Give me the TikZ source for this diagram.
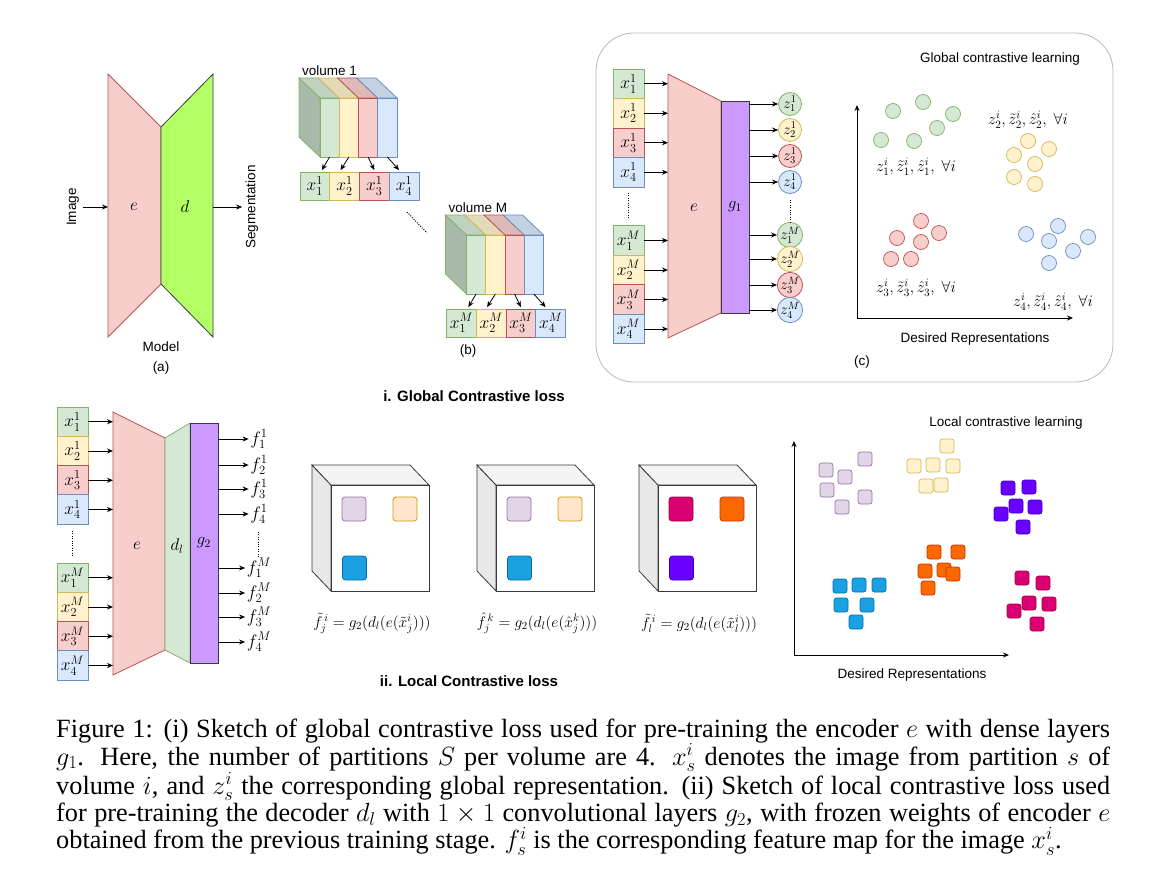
\RequirePackage{fix-cm}
\documentclass[tikz,border=0pt]{standalone}
\usepackage{fontspec}
\setmainfont{Liberation Sans}
\newfontfamily\capfont{Liberation Serif}
\usetikzlibrary{arrows.meta,positioning,calc}

\definecolor{gF}{HTML}{D5E8D4}\definecolor{gD}{HTML}{82B366}
\definecolor{yF}{HTML}{FFF2CC}\definecolor{yD}{HTML}{D6B656}
\definecolor{rF}{HTML}{F8CECC}\definecolor{rD}{HTML}{B85450}
\definecolor{bF}{HTML}{DAE8FC}\definecolor{bD}{HTML}{6C8EBF}
\definecolor{lavF}{HTML}{E1D5E7}\definecolor{lavD}{HTML}{9673A6}
\definecolor{orlF}{HTML}{FFE6CC}\definecolor{orlD}{HTML}{D79B00}
\definecolor{cyF}{HTML}{1BA1E2}\definecolor{cyD}{HTML}{006EAF}
\definecolor{mgF}{HTML}{D80073}\definecolor{mgD}{HTML}{A50040}
\definecolor{orF}{HTML}{FA6800}\definecolor{orD}{HTML}{C73500}
\definecolor{vF}{HTML}{6A00FF}\definecolor{vD}{HTML}{3700CC}
\definecolor{pF}{HTML}{CC99FF}
\definecolor{limeF}{HTML}{B3FF66}
\definecolor{dk}{HTML}{36393D}

\tikzset{
  arr/.style={->, line width=0.8pt},
  lbl/.style={font=\fontsize{13.5}{15}\selectfont},
  ttl/.style={font=\bfseries\fontsize{15}{17}\selectfont},
  mth/.style={font=\fontsize{#1}{#1}\selectfont},
  part/.style={draw=#1D, fill=#1F, line width=0.8pt, minimum width=31pt,
    minimum height=29.5pt, inner sep=0pt, font=\fontsize{17.5}{18}\selectfont},
  zc/.style={circle, draw=#1D, fill=#1F, line width=0.8pt, minimum size=23pt,
    inner sep=0pt, font=\fontsize{15}{16}\selectfont},
  zdot/.style={circle, draw=#1D, fill=#1F, line width=0.7pt, minimum size=15pt, inner sep=0pt},
  lsq/.style={draw=#1D, fill=#1F, rounded corners=2.5pt, line width=0.7pt,
    minimum size=14pt, inner sep=0pt},
  fsq/.style={draw=#1D, fill=#1F, rounded corners=3pt, line width=0.8pt,
    minimum size=24pt, inner sep=0pt},
  gbox/.style={draw=dk, fill=pF, line width=0.9pt, inner sep=0pt,
    font=\fontsize{16.5}{18}\selectfont},
  dotline/.style={line width=1pt, dash pattern=on 1pt off 1.4pt},
}

% one volume cut into four partitions
\newcommand{\volume}[3]{%
\begin{scope}[shift={#1}]
  \node[lbl, anchor=west, inner sep=0pt] (#3lab) at (302,71) {volume #2};
  \filldraw[fill=gF!80!black, draw=gD, line width=0.8pt] (299,78) -- (320,98) -- (320,157) -- (299,137) -- cycle;
  \foreach \c [count=\k from 0] in {g,y,r,b}{
    \pgfmathsetmacro{\xa}{320+19.25*\k}
    \pgfmathsetmacro{\xb}{\xa+19.25}
    \filldraw[fill=\c F!90!black, draw=\c D, line width=0.8pt] (\xa-21,78) -- (\xb-21,78) -- (\xb,98) -- (\xa,98) -- cycle;
    \filldraw[fill=\c F, draw=\c D, line width=0.8pt] (\xa,98) rectangle (\xb,157);
    \coordinate (#3s\k) at (\xa+9.6,157);
  }
  \foreach \c [count=\k] in {g,y,r,b}
    \node[part=\c, minimum width=29.75pt, minimum height=28pt] (#3x\k) at (285.1+29.75*\k,186) {$x^{#2}_{\k}$};
  \draw[arr] (#3s0) -- ([xshift=7pt,yshift=1.5pt]#3x1.north);
  \draw[arr] (#3s1) -- ([xshift=-4pt,yshift=1.5pt]#3x2.north);
  \draw[arr] (#3s2) -- ([yshift=1.5pt]#3x3.north);
  \draw[arr] (#3s3) -- ([xshift=-5pt,yshift=1.5pt]#3x4.north);
\end{scope}}

% feature map cube with three regions
\newcommand{\featmap}[6]{%
\begin{scope}[shift={(#1,0)}]
  \filldraw[fill=gray!18, draw=dk, line width=0.8pt] (312,465) -- (331,485) -- (331,591) -- (312,571) -- cycle;
  \filldraw[fill=gray!9, draw=dk, line width=0.8pt] (312,465) -- (410,465) -- (429,485) -- (331,485) -- cycle;
  \node[draw=dk, fill=white, line width=0.8pt, minimum width=98pt, minimum height=106pt, inner sep=0pt] (#2) at (380,538) {};
  \node[fsq=#3] (#2a) at (354,509) {};
  \node[fsq=#4] (#2b) at (405,509) {};
  \node[fsq=#5] (#2c) at (354.5,568) {};
  \node[mth=15.5] (#2lab) at (372,623) {#6};
\end{scope}}

\begin{document}
\begin{tikzpicture}[x=1pt, y=-1pt, >={Stealth[length=6pt,width=5pt]}]
\useasboundingbox (0,0) rectangle (1158,872);

% (a) model
\filldraw[fill=rF, draw=rD, line width=0.8pt] (108,74) -- (161,127) -- (161,284) -- (108,337) -- cycle;
\filldraw[fill=limeF, draw=dk, line width=0.8pt] (161,127) -- (213,74) -- (213,337) -- (161,284) -- cycle;
\node[mth=17] (ae) at (134,207) {$e$};
\node[mth=17] (ad) at (185,207) {$d$};
\node[lbl, rotate=90] (img) at (73,207) {Image};
\node[lbl, rotate=90] (seg) at (252,207) {Segmentation};
\coordinate (ain) at (108,207);
\coordinate (aout) at (213,207);
\draw[arr] (img.south) -- (ain);
\draw[arr] (aout) -- (seg.north);
\node[lbl] (model) at (161,347) {Model};
\node[lbl] (alab) at (161,368) {(a)};

% (b) volumes
\volume{(0,0)}{1}{va}
\volume{(146.5,137)}{M}{vb}
\coordinate (bd1) at (407,212);
\coordinate (bd2) at (427,233);
\draw[dotline] (bd1) -- (bd2);
\node[lbl] (blab) at (468,351) {(b)};

% (c) global contrastive learning
\draw[gray!55, line width=0.8pt, rounded corners=38pt] (596,33) rectangle (1113,382);
\foreach \c [count=\k] in {g,y,r,b}{
  \node[part=\c] (cx1\k) at (628.5,54.25+29.5*\k) {$x^1_{\k}$};
  \node[part=\c] (cxM\k) at (628.5,211+29.5*\k) {$x^M_{\k}$};
}
\filldraw[fill=rF, draw=rD, line width=0.8pt] (668,74) -- (721,101) -- (721,313) -- (668,338) -- cycle;
\node[mth=17] (ce) at (694,208) {$e$};
\node[gbox, minimum width=28pt, minimum height=212pt] (g1) at (735,207) {$g_1$};
\coordinate (cin) at (668,0);
\foreach \k in {1,...,4}{
  \draw[arr] (cx1\k.east) -- (cx1\k.east -| cin);
  \draw[arr] (cxM\k.east) -- (cxM\k.east -| cin);
}
\foreach \c/\y [count=\k] in {g/104,y/130,r/156,b/182}{
  \node[zc=\c] (cz1\k) at (790,\y) {$z^1_{\k}$};
  \draw[arr] (cz1\k.west -| g1.east) -- (cz1\k.west);
}
\foreach \c/\y [count=\k] in {g/235,y/259,r/285,b/310}{
  \node[zc=\c] (czM\k) at (790,\y) {$z^M_{\k}$};
  \draw[arr] (czM\k.west -| g1.east) -- (czM\k.west);
}
\draw[dotline] (628.5,193) -- (628.5,218);
\draw[dotline] (790,200) -- (790,222);

\coordinate (co) at (857,318);
\coordinate (cy) at (857,105);
\coordinate (cx) at (1073,318);
\draw[arr] (co) -- (cy);
\draw[arr] (co) -- (cx);
\foreach \p [count=\k] in {(893,111),(923,102),(953,114),(937,128),(881,140),(914,141)}
  \node[zdot=g] (gd\k) at \p {};
\foreach \p [count=\k] in {(1028,141),(1049,149),(1014,155),(1035,164),(1014,177),(1035,184)}
  \node[zdot=y] (yd\k) at \p {};
\foreach \p [count=\k] in {(921,221),(939,233),(897,238),(921,242),(891,259),(911,259)}
  \node[zdot=r] (rd\k) at \p {};
\foreach \p [count=\k] in {(1058,226),(1026,234),(1088,237),(1049,241),(1073,251),(1049,263)}
  \node[zdot=b] (bd\k) at \p {};
\node[mth=16] (zl1) at (916,167) {$z^i_1, \tilde{z}^i_1, \hat{z}^i_1,\ \forall i$};
\node[mth=16] (zl2) at (1028,120) {$z^i_2, \tilde{z}^i_2, \hat{z}^i_2,\ \forall i$};
\node[mth=16] (zl3) at (916,288) {$z^i_3, \tilde{z}^i_3, \hat{z}^i_3,\ \forall i$};
\node[mth=16] (zl4) at (1053,302) {$z^i_4, \tilde{z}^i_4, \hat{z}^i_4,\ \forall i$};
\node[lbl] (gtit) at (1000,59) {Global contrastive learning};
\node[lbl] (cdes) at (975,339) {Desired Representations};
\node[lbl] (clab) at (862,362) {(c)};

\node[ttl] (ttl1) at (474,396) {i. Global Contrastive loss};

% (ii) local contrastive loss
\foreach \c [count=\k] in {g,y,r,b}{
  \node[part=\c] (lx1\k) at (72.5,392.5+29.25*\k) {$x^1_{\k}$};
  \node[part=\c] (lxM\k) at (72.5,548.5+29.25*\k) {$x^M_{\k}$};
}
\filldraw[fill=rF, draw=rD, line width=0.8pt] (113,412) -- (165,438) -- (165,650) -- (113,675) -- cycle;
\filldraw[fill=gF, draw=gD, line width=0.8pt] (165,438) -- (190,423) -- (190,663) -- (165,650) -- cycle;
\node[mth=17] (le) at (137,546) {$e$};
\node[mth=17] (ldl) at (177,546) {$d_l$};
\node[gbox, minimum width=28pt, minimum height=240pt] (g2) at (204,543) {$g_2$};
\coordinate (lin) at (113,0);
\foreach \k in {1,...,4}{
  \draw[arr] (lx1\k.east) -- (lx1\k.east -| lin);
  \draw[arr] (lxM\k.east) -- (lxM\k.east -| lin);
}
\foreach \y [count=\k] in {439,465,489,514}{
  \node[mth=18, inner sep=1.5pt] (lf1\k) at (259,\y) {$f^1_{\k}$};
  \draw[arr] (lf1\k.west -| g2.east) -- (lf1\k.west);
}
\foreach \y [count=\k] in {568,593,617,642}{
  \node[mth=18, inner sep=1.5pt] (lfM\k) at (259,\y) {$f^M_{\k}$};
  \draw[arr] (lfM\k.west -| g2.east) -- (lfM\k.west);
}
\draw[dotline] (72.5,531) -- (72.5,556);
\draw[dotline] (258,532) -- (258,558);

\featmap{0}{fa}{lav}{orl}{cy}{$\tilde{f}^{\,i}_{j} = g_2(d_l(e(\tilde{x}^i_j)))$}
\featmap{165}{fb}{lav}{orl}{cy}{$\hat{f}^{\,k}_{j} = g_2(d_l(e(\hat{x}^k_j)))$}
\featmap{327}{fc}{mg}{or}{v}{$\tilde{f}^{\,i}_{l} = g_2(d_l(e(\tilde{x}^i_l)))$}

\coordinate (lo) at (794,655);
\coordinate (ly) at (794,441);
\coordinate (lx) at (1009,655);
\draw[arr] (lo) -- (ly);
\draw[arr] (lo) -- (lx);
\foreach \p [count=\k] in {(826,470),(865,459),(845,477),(827,490),(865,497),(842,507)}
  \node[lsq=lav] (ls\k) at \p {};
\foreach \p [count=\k] in {(947,446),(914,466),(933,465),(953,466),(926,486),(941,485)}
  \node[lsq=y] (ly\k) at \p {};
\foreach \p [count=\k] in {(1008,488),(1029,487),(1016,506),(1035,507),(1001,514),(1023,527)}
  \node[lsq=v] (lv\k) at \p {};
\foreach \p [count=\k] in {(934,552),(958,552),(925,571),(944,570),(953,574),(928,588)}
  \node[lsq=or] (lr\k) at \p {};
\foreach \p [count=\k] in {(840,586),(859,585),(879,585),(841,605),(867,605),(856,622)}
  \node[lsq=cy] (lc\k) at \p {};
\foreach \p [count=\k] in {(1022,578),(1043,583),(1029,603),(1049,604),(1014,611),(1037,624)}
  \node[lsq=mg] (lm\k) at \p {};
\node[lbl] (ltit) at (1006,423) {Local contrastive learning};
\node[lbl] (ldes) at (912,675) {Desired Representations};

\node[ttl] (ttl2) at (469,681) {ii. Local Contrastive loss};

% caption
\node[anchor=north west, inner sep=0pt, text width=1054pt, align=justify,
  font=\capfont\fontsize{26.3}{27.3}\selectfont] (cap) at (56,719)
  {Figure 1: (i) Sketch of global contrastive loss used for pre-training the encoder $e$ with dense layers\linebreak
  $g_1$. Here, the number of partitions $S$ per volume are 4. $x^i_s$ denotes the image from partition $s$ of\linebreak
  volume $i$, and $z^i_s$ the corresponding global representation. (ii) Sketch of local contrastive loss used\linebreak
  for pre-training the decoder $d_l$ with $1\times 1$ convolutional layers $g_2$, with frozen weights of encoder $e$\linebreak
  obtained from the previous training stage. $f^i_s$ is the corresponding feature map for the image $x^i_s$.};
\end{tikzpicture}
\end{document}
